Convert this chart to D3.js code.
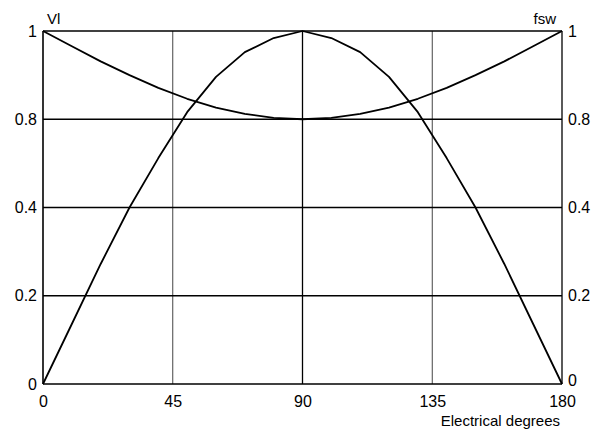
<!DOCTYPE html>
<html>
<head>
<meta charset="utf-8">
<script src="https://cdn.jsdelivr.net/npm/d3@7"></script>
<style>
  body { margin: 0; background: #fff; }
  text { font-family: "Liberation Sans", Arial, sans-serif; font-size: 15px; fill: #000; }
  .tick text { font-size: 16px; }
</style>
</head>
<body>
<div id="chart"></div>
<script>
// angles (electrical degrees)
var degrees = [0, 10, 20, 30, 40, 50, 60, 70, 80, 90, 100, 110, 120, 130, 140, 150, 160, 170, 180];
// VI curve (sine shaped)
var vlValues = [0, 0.17, 0.34, 0.5, 0.64, 0.77, 0.87, 0.94, 0.98, 1, 0.98, 0.94, 0.87, 0.77, 0.64, 0.5, 0.34, 0.17, 0];
// fsw curve (dips to the 0.8 line at 90)
var fswValues = [1, 0.957, 0.914, 0.875, 0.839, 0.808, 0.783, 0.765, 0.754, 0.75, 0.754, 0.765, 0.783, 0.808, 0.839, 0.875, 0.914, 0.957, 1];

var xTicks = [0, 45, 90, 135, 180];
var yTicks = [0, 0.25, 0.5, 0.75, 1];
var yTickLabels = ["0", "0.2", "0.4", "0.8", "1"];

var margin = {left: 43, right: 42, top: 31, bottom: 51};
var width = 604 - margin.left - margin.right,
    height = 435 - margin.top - margin.bottom;

var svg = d3.select("#chart").append("svg")
    .attr("width", 604)
    .attr("height", 435);

var g = svg.append("g")
    .attr("transform", "translate(" + margin.left + "," + margin.top + ")");

var x = d3.scaleLinear().domain([0, 180]).range([0, width]);
var y = d3.scaleLinear().domain([0, 1]).range([height, 0]);

// vertical grid lines
g.selectAll(".vgrid")
    .data(xTicks.slice(1, -1))
    .enter().append("line")
    .attr("x1", function (d) { return x(d); })
    .attr("x2", function (d) { return x(d); })
    .attr("y1", 0)
    .attr("y2", height)
    .attr("stroke", function (d) { return d == 90 ? "#000" : "#444"; })
    .attr("stroke-width", function (d) { return d == 90 ? 1.3 : 1; });

// horizontal grid lines
g.selectAll(".hgrid")
    .data(yTicks)
    .enter().append("line")
    .attr("x1", 0)
    .attr("x2", width)
    .attr("y1", function (d) { return y(d); })
    .attr("y2", function (d) { return y(d); })
    .attr("stroke", "#000")
    .attr("stroke-width", 1.6);

// side borders
g.append("line").attr("x1", 0).attr("x2", 0).attr("y1", 0).attr("y2", height)
    .attr("stroke", "#000").attr("stroke-width", 1.6);
g.append("line").attr("x1", width).attr("x2", width).attr("y1", 0).attr("y2", height)
    .attr("stroke", "#000").attr("stroke-width", 1.3);

// axes (labels only)
var xAxis = g.append("g")
    .attr("transform", "translate(0," + height + ")")
    .call(d3.axisBottom(x).tickValues(xTicks).tickSize(0).tickPadding(12).tickFormat(d3.format("d")));
var yLeft = g.append("g")
    .call(d3.axisLeft(y).tickValues(yTicks).tickSize(0).tickPadding(6)
        .tickFormat(function (d, i) { return yTickLabels[i]; }));
var yRight = g.append("g")
    .attr("transform", "translate(" + width + ",0)")
    .call(d3.axisRight(y).tickValues(yTicks).tickSize(0).tickPadding(6)
        .tickFormat(function (d, i) { return yTickLabels[i]; }));
[xAxis, yLeft, yRight].forEach(function (a) {
    a.select(".domain").remove();
    a.attr("font-size", null).attr("font-family", null);
    a.selectAll("text").style("fill", "#000");
});
// the bottom-right "0" sits a touch higher so it clears the "180"
yRight.selectAll(".tick text").filter(function (d) { return d == 0; }).attr("dy", "0.1em");

// curves
var line = d3.line()
    .x(function (d) { return x(d[0]); })
    .y(function (d) { return y(d[1]); });

g.append("path")
    .datum(d3.zip(degrees, vlValues))
    .attr("d", line)
    .attr("fill", "none")
    .attr("stroke", "#000")
    .attr("stroke-width", 1.8)
    .attr("stroke-linejoin", "round");

g.append("path")
    .datum(d3.zip(degrees, fswValues))
    .attr("d", line)
    .attr("fill", "none")
    .attr("stroke", "#000")
    .attr("stroke-width", 1.8)
    .attr("stroke-linejoin", "round");

// titles
g.append("text").attr("x", 4).attr("y", -7).text("Vl");
g.append("text").attr("x", width - 6).attr("y", -7).attr("text-anchor", "end").text("fsw");
g.append("text").attr("x", width - 2).attr("y", height + 42).attr("text-anchor", "end").text("Electrical degrees");
</script>
</body>
</html>
